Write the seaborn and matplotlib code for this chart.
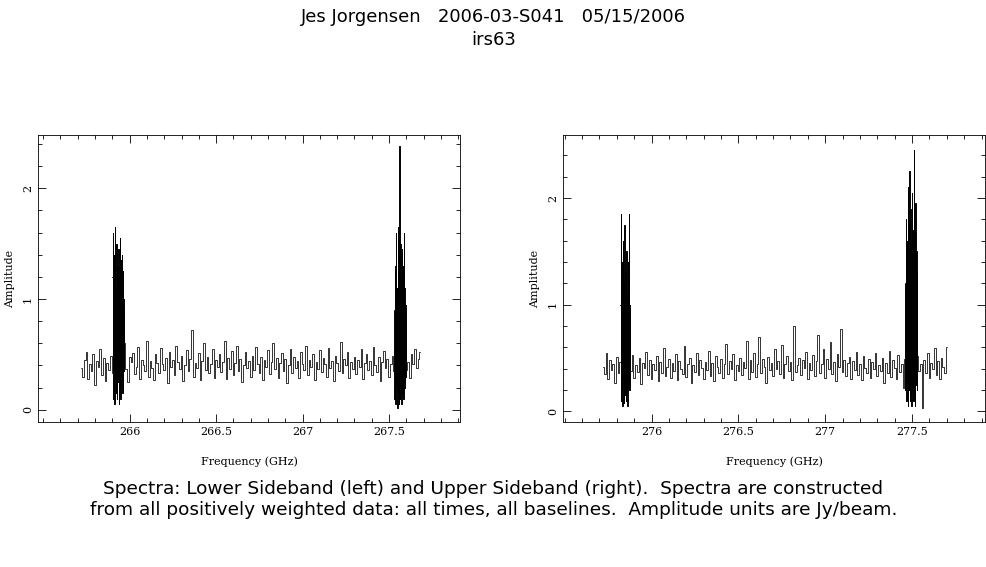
import numpy as np
import matplotlib
matplotlib.use("Agg")
import matplotlib.pyplot as plt
import seaborn as sns
from matplotlib.ticker import MultipleLocator

# channel grids (GHz)
lsb_start, usb_start, chan_step = 265.72, 275.72, 0.01
burst_step = 0.0025

lsb_base = [0.38,0.30,0.45,0.52,0.28,0.41,0.35,0.50,0.22,0.44,0.39,0.55,0.31,0.47,0.26,0.42,0.36,0.49,0.33,0.40,
            0.29,0.46,0.53,0.34,0.41,0.60,0.37,0.25,0.48,0.43,0.51,0.32,0.39,0.57,0.28,0.45,0.40,0.35,0.62,0.30,
            0.44,0.38,0.27,0.50,0.42,0.33,0.56,0.41,0.36,0.47,0.24,0.52,0.39,0.45,0.31,0.58,0.43,0.37,0.49,0.26,
            0.40,0.54,0.35,0.46,0.72,0.30,0.42,0.38,0.51,0.27,0.44,0.60,0.36,0.48,0.33,0.41,0.55,0.29,0.45,0.39,
            0.50,0.34,0.43,0.62,0.28,0.47,0.37,0.53,0.31,0.42,0.58,0.35,0.46,0.25,0.40,0.52,0.38,0.44,0.30,0.49,
            0.36,0.57,0.41,0.33,0.48,0.27,0.45,0.39,0.54,0.32,0.43,0.60,0.37,0.47,0.29,0.42,0.51,0.35,0.46,0.24,
            0.40,0.55,0.33,0.48,0.38,0.44,0.29,0.52,0.41,0.36,0.58,0.31,0.45,0.39,0.50,0.27,0.43,0.37,0.54,0.34,
            0.47,0.41,0.30,0.56,0.38,0.44,0.26,0.49,0.42,0.35,0.61,0.33,0.46,0.40,0.52,0.29,0.43,0.37,0.48,0.32,
            0.45,0.39,0.55,0.28,0.42,0.50,0.36,0.44,0.31,0.57,0.40,0.34,0.48,0.26,0.43,0.53,0.38,0.46,0.30,0.41,
            0.49,0.35,0.44,0.58,0.32,0.47,0.39,0.52,0.36,0.43,0.29,0.50,0.41,0.55,0.38,0.46,0.52]

usb_base = [0.42,0.35,0.55,0.30,0.48,0.39,0.44,0.27,0.51,0.36,0.46,0.33,0.58,0.40,0.29,0.47,0.38,0.53,0.31,0.43,
            0.37,0.50,0.26,0.45,0.41,0.56,0.34,0.48,0.30,0.44,0.39,0.52,0.28,0.46,0.36,0.59,0.33,0.42,0.49,0.31,
            0.45,0.38,0.54,0.29,0.47,0.40,0.35,0.61,0.32,0.44,0.50,0.27,0.43,0.37,0.55,0.34,0.48,0.41,0.30,0.46,
            0.39,0.57,0.33,0.45,0.28,0.52,0.42,0.36,0.49,0.31,0.44,0.63,0.35,0.47,0.40,0.54,0.29,0.43,0.38,0.50,
            0.34,0.46,0.41,0.66,0.30,0.48,0.37,0.55,0.32,0.44,0.70,0.36,0.49,0.42,0.27,0.51,0.39,0.45,0.33,0.58,
            0.40,0.47,0.35,0.62,0.31,0.44,0.52,0.38,0.46,0.29,0.80,0.37,0.43,0.50,0.34,0.48,0.41,0.56,0.30,0.45,
            0.39,0.53,0.33,0.47,0.72,0.36,0.44,0.58,0.31,0.49,0.40,0.65,0.35,0.46,0.28,0.54,0.42,0.77,0.37,0.48,
            0.33,0.45,0.51,0.30,0.47,0.39,0.56,0.34,0.44,0.29,0.52,0.41,0.36,0.49,0.31,0.46,0.40,0.55,0.33,0.43,
            0.38,0.50,0.27,0.45,0.36,0.57,0.32,0.48,0.41,0.30,0.53,0.37,0.44,0.22,0.49,0.35,0.58,0.40,0.28,0.46,
            0.33,0.52,0.38,0.44,0.03,0.48,0.36,0.55,0.31,0.45,0.40,0.59,0.34,0.47,0.30,0.50,0.42,0.36,0.60]

lsb_burst1_start = 265.900
lsb_burst1 = [1.2,0.1,1.6,0.2,1.4,0.05,1.65,0.3,1.1,0.15,1.5,0.1,1.3,0.25,1.45,0.05,1.2,0.2,1.55,0.1,
              1.35,0.3,1.4,0.15,1.25,0.2,1.0,0.35,0.9]
lsb_burst2_start = 267.530
lsb_burst2 = [0.9,0.1,1.3,0.05,1.6,0.2,1.1,0.02,1.65,0.15,1.4,0.05,2.38,0.1,1.5,0.2,1.2,0.05,1.45,0.15,
              1.3,0.1,1.6,0.25,1.1,0.2,0.95,0.3,0.8]
usb_burst1_start = 275.820
usb_burst1 = [1.0,0.1,1.85,0.2,1.4,0.05,1.6,0.3,1.2,0.08,1.75,0.15,1.3,0.1,1.5,0.2,1.1,0.05,1.4,0.25,
              1.85,0.2,1.0,0.3]
usb_burst2_start = 277.460
usb_burst2 = [1.2,0.2,1.8,0.1,1.6,0.3,2.1,0.05,1.75,0.2,2.25,0.1,1.9,0.15,1.6,0.05,2.05,0.2,1.7,0.1,
              2.45,0.15,1.8,0.05,1.95,0.25,1.5,0.2,1.3]

sns.set_style("ticks")
plt.rcParams["font.family"] = ["DejaVu Sans"]
plt.rcParams["text.color"] = "black"

fig = plt.figure(figsize=(9.87, 5.67), dpi=100)
W, H = 987, 567
axL = fig.add_axes([38 / W, 1 - 422 / H, 422 / W, 287 / H])
axR = fig.add_axes([563 / W, 1 - 422 / H, 422 / W, 287 / H])

panels = [
    (axL, lsb_start, lsb_base, [(lsb_burst1_start, lsb_burst1), (lsb_burst2_start, lsb_burst2)],
     (265.47, 267.91), (-0.11, 2.48), [266, 266.5, 267, 267.5], ["266", "266.5", "267", "267.5"]),
    (axR, usb_start, usb_base, [(usb_burst1_start, usb_burst1), (usb_burst2_start, usb_burst2)],
     (275.49, 277.92), (-0.10, 2.59), [276, 276.5, 277, 277.5], ["276", "276.5", "277", "277.5"]),
]

for ax, start, base, bursts, xl, yl, xt, xtl in panels:
    freq = start + chan_step * np.arange(len(base))
    sns.lineplot(x=freq, y=base, ax=ax, color="#333333", linewidth=0.7,
                 drawstyle="steps-mid", estimator=None, sort=False)
    for b0, vals in bursts:
        bf = b0 + burst_step * np.arange(len(vals))
        ax.plot(bf, vals, color="black", linewidth=0.7, drawstyle="steps-mid")
    ax.set_xlim(*xl)
    ax.set_ylim(*yl)
    ax.set_xticks(xt)
    ax.set_xticklabels(xtl, fontsize=8, family="DejaVu Serif", color="black")
    ax.set_yticks([0, 1, 2])
    ax.set_yticklabels(["0", "1", "2"], fontsize=8, family="DejaVu Serif", rotation=90, va="center", color="black")
    ax.xaxis.set_minor_locator(MultipleLocator(0.1))
    ax.yaxis.set_minor_locator(MultipleLocator(0.2))
    ax.tick_params(which="both", direction="in", top=True, right=True, width=0.6, colors="black")
    ax.tick_params(which="major", length=6)
    ax.tick_params(which="minor", length=3)
    for s in ax.spines.values():
        s.set_linewidth(0.6)
        s.set_color("black")
    ax.set_xlabel("Frequency (GHz)", fontsize=8, family="DejaVu Serif", labelpad=14, color="black")
    ax.set_ylabel("Amplitude", fontsize=8, family="DejaVu Serif", labelpad=6, color="black")

fig.text(0.5, 1 - 17 / H, "Jes Jorgensen   2006-03-S041   05/15/2006", ha="center", va="center", fontsize=13)
fig.text(0.5, 1 - 40 / H, "irs63", ha="center", va="center", fontsize=13)
fig.text(0.5, 1 - 489 / H, "Spectra: Lower Sideband (left) and Upper Sideband (right).  Spectra are constructed",
         ha="center", va="center", fontsize=13.3)
fig.text(0.5, 1 - 510 / H, "from all positively weighted data: all times, all baselines.  Amplitude units are Jy/beam.",
         ha="center", va="center", fontsize=13.3)

fig.savefig("out.png", dpi=100, facecolor="white")
